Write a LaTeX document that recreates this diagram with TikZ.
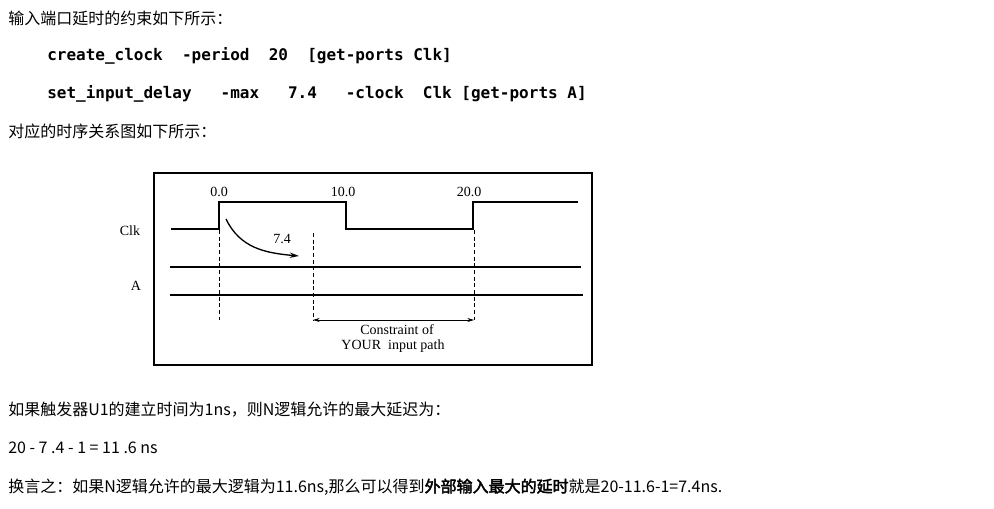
\documentclass[tikz,border=0pt]{standalone}
\usepackage{fontspec}
\setmainfont{Liberation Serif}
\newfontfamily\cjk[AutoFakeBold=2.5]{Noto Sans CJK SC}
\newfontfamily\codefont{DejaVu Sans Mono}
\usetikzlibrary{arrows.meta}
\begin{document}
\begin{tikzpicture}[x=0.75pt,y=-0.75pt,
  txt/.style={anchor=west,inner sep=0pt,font=\cjk\fontsize{12}{14}\selectfont},
  code/.style={anchor=west,inner sep=0pt,font=\codefont\bfseries\fontsize{12}{14}\selectfont},
  lbl/.style={inner sep=0pt,font=\fontsize{10.5}{12}\selectfont},
  wave/.style={line width=1.3pt},
  sig/.style={line width=1pt},
  guide/.style={line width=0.5pt,dash pattern=on 3pt off 2pt}]
\useasboundingbox (0,0) rectangle (994,509);
\node[txt] (t1) at (8,18) {输入端口延时的约束如下所示：};
\node[code] (c1) at (47,56) {create\_clock\ \ -period\ \ 20\ \ [get-ports Clk]};
\node[code] (c2) at (47,94) {set\_input\_delay\ \ \ -max\ \ \ 7.4\ \ \ -clock\ \ Clk [get-ports A]};
\node[txt] (t2) at (8,131) {对应的时序关系图如下所示：};
% diagram
\draw[line width=1pt] (154,173) rectangle (592,365);
\node[lbl] (clk) at (130,231) {Clk};
\node[lbl] (a) at (136,286) {A};
\draw[wave] (171,229) -- (219,229) -- (219,202) -- (346,202) -- (346,229) -- (473,229) -- (473,202) -- (578,202);
\node[lbl] (l0) at (219,192) {0.0};
\node[lbl] (l10) at (343,192) {10.0};
\node[lbl] (l20) at (469,192) {20.0};
\draw[sig] (170,267) -- (581,267);
\draw[sig] (170,295) -- (583,295);
\coordinate (d1a) at (219,230); \coordinate (d1b) at (219,320);
\coordinate (d2a) at (313,233); \coordinate (d2b) at (313,320);
\coordinate (d3a) at (474,230); \coordinate (d3b) at (474,320);
\draw[guide] (d1a) -- (d1b);
\draw[guide] (d2a) -- (d2b);
\draw[guide] (d3a) -- (d3b);
\coordinate (cs) at (226,219); \coordinate (ce) at (299,256);
\draw[line width=1pt,-{Stealth[length=7pt,width=4pt]}] (cs) .. controls (240,248) and (265,253) .. (ce);
\node[lbl] (l74) at (282,239) {7.4};
\draw[line width=0.6pt,{Stealth[length=5pt,width=3pt]}-{Stealth[length=5pt,width=3pt]}] (d2b) -- (d3b);
\node[lbl] (ct1) at (397,330) {Constraint of};
\node[lbl] (ct2) at (393,346) {YOUR\ \ input path};
% bottom text
\node[txt] (b1) at (8,410) {如果触发器U1的建立时间为1ns，则N逻辑允许的最大延迟为：};
\node[txt] (b2) at (8,448) {20 - 7 .4 - 1 = 11 .6 ns};
\node[txt] (b3) at (8,487) {换言之：如果N逻辑允许的最大逻辑为11.6ns,那么可以得到\textbf{外部输入最大的延时}就是20-11.6-1=7.4ns.};
\end{tikzpicture}
\end{document}
